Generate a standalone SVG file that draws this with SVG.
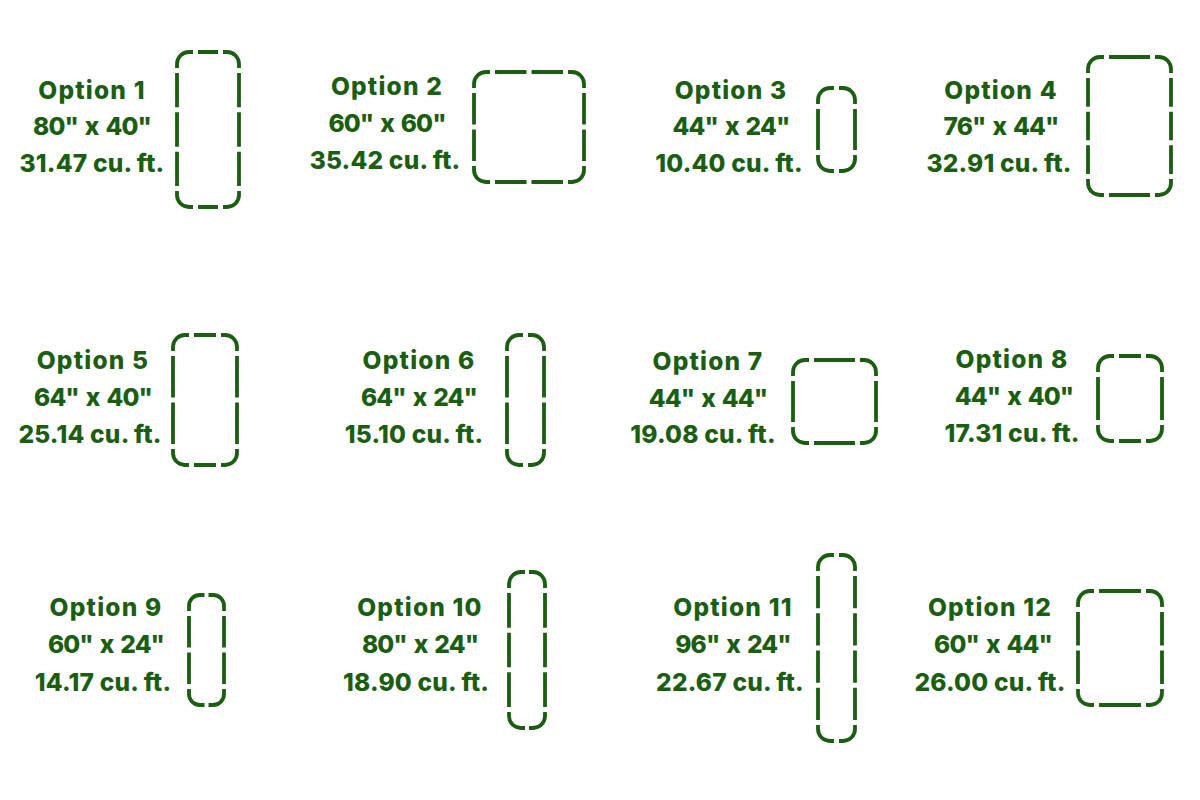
<svg xmlns="http://www.w3.org/2000/svg" width="1200" height="800" viewBox="0 0 1200 800">
<style>
.t{font-family:Inter,"Open Sans","Liberation Sans",sans-serif;font-weight:800;font-size:24.5px;fill:#1b5e12;text-anchor:middle}
.o{letter-spacing:1.2px}
.d{letter-spacing:-0.9px;word-spacing:2.5px}
.v{letter-spacing:0.2px}
.r{fill:none;stroke:#1b5e12;stroke-width:3.8;stroke-linecap:butt}
</style>
<rect width="1200" height="800" fill="#ffffff"/>
<g id="option1">
<text class="t o" x="92" y="98.5">Option 1</text>
<text class="t d" x="92" y="135">80" x 40"</text>
<text class="t v" x="92" y="172">31.47 cu. ft.</text>
<path class="r" d="M177 68V64A12 12 0 0 1 189 52H193M223 52H227A12 12 0 0 1 239 64V68M239 191V195A12 12 0 0 1 227 207H223M193 207H189A12 12 0 0 1 177 195V191M198 52H218M198 207H218M177 73V107.3M177 112.3V146.7M177 151.7V186M239 73V107.3M239 112.3V146.7M239 151.7V186"/>
</g>
<g id="option2">
<text class="t o" x="387" y="95">Option 2</text>
<text class="t d" x="387" y="132">60" x 60"</text>
<text class="t v" x="385" y="169">35.42 cu. ft.</text>
<path class="r" d="M474 88V84A12 12 0 0 1 486 72H490M568 72H572A12 12 0 0 1 584 84V88M584 166V170A12 12 0 0 1 572 182H568M490 182H486A12 12 0 0 1 474 170V166M495 72H526.5M531.5 72H563M495 182H526.5M531.5 182H563M474 93V124.5M474 129.5V161M584 93V124.5M584 129.5V161"/>
</g>
<g id="option3">
<text class="t o" x="731" y="98.5">Option 3</text>
<text class="t d" x="731" y="135">44" x 24"</text>
<text class="t v" x="729" y="172">10.40 cu. ft.</text>
<path class="r" d="M818 104V100A12 12 0 0 1 830 88H834M839 88H843A12 12 0 0 1 855 100V104M855 155V159A12 12 0 0 1 843 171H839M834 171H830A12 12 0 0 1 818 159V155M818 109V150M855 109V150"/>
</g>
<g id="option4">
<text class="t o" x="1001" y="98.5">Option 4</text>
<text class="t d" x="1001" y="135">76" x 44"</text>
<text class="t v" x="999" y="172">32.91 cu. ft.</text>
<path class="r" d="M1088 73V69A12 12 0 0 1 1100 57H1104M1155 57H1159A12 12 0 0 1 1171 69V73M1171 179V183A12 12 0 0 1 1159 195H1155M1104 195H1100A12 12 0 0 1 1088 183V179M1109 57H1150M1109 195H1150M1088 78V106.7M1088 111.7V140.3M1088 145.3V174M1171 78V106.7M1171 111.7V140.3M1171 145.3V174"/>
</g>
<g id="option5">
<text class="t o" x="93" y="368.5">Option 5</text>
<text class="t d" x="93" y="405.5">64" x 40"</text>
<text class="t v" x="90" y="443">25.14 cu. ft.</text>
<path class="r" d="M173 351V347A12 12 0 0 1 185 335H189M221 335H225A12 12 0 0 1 237 347V351M237 449V453A12 12 0 0 1 225 465H221M189 465H185A12 12 0 0 1 173 453V449M194 335H216M194 465H216M173 356V397.5M173 402.5V444M237 356V397.5M237 402.5V444"/>
</g>
<g id="option6">
<text class="t o" x="419" y="368.5">Option 6</text>
<text class="t d" x="419" y="405.5">64" x 24"</text>
<text class="t v" x="414" y="443">15.10 cu. ft.</text>
<path class="r" d="M507 351V347A12 12 0 0 1 519 335H523M528 335H532A12 12 0 0 1 544 347V351M544 449V453A12 12 0 0 1 532 465H528M523 465H519A12 12 0 0 1 507 453V449M507 356V397.5M507 402.5V444M544 356V397.5M544 402.5V444"/>
</g>
<g id="option7">
<text class="t o" x="708" y="370">Option 7</text>
<text class="t d" x="708" y="406.5">44" x 44"</text>
<text class="t v" x="703" y="443">19.08 cu. ft.</text>
<path class="r" d="M793 376V372A12 12 0 0 1 805 360H809M860 360H864A12 12 0 0 1 876 372V376M876 427V431A12 12 0 0 1 864 443H860M809 443H805A12 12 0 0 1 793 431V427M814 360H855M814 443H855M793 381V422M876 381V422"/>
</g>
<g id="option8">
<text class="t o" x="1012" y="368">Option 8</text>
<text class="t d" x="1014" y="405">44" x 40"</text>
<text class="t v" x="1012" y="442">17.31 cu. ft.</text>
<path class="r" d="M1098 372V368A12 12 0 0 1 1110 356H1114M1146 356H1150A12 12 0 0 1 1162 368V372M1162 425V429A12 12 0 0 1 1150 441H1146M1114 441H1110A12 12 0 0 1 1098 429V425M1119 356H1141M1119 441H1141M1098 377V420M1162 377V420"/>
</g>
<g id="option9">
<text class="t o" x="106" y="616">Option 9</text>
<text class="t d" x="106" y="653">60" x 24"</text>
<text class="t v" x="103" y="690.5">14.17 cu. ft.</text>
<path class="r" d="M189 611V607A11 11 0 0 1 200 595H204.5M208.5 595H213A11 11 0 0 1 224 607V611M224 689V693A11 11 0 0 1 213 705H208.5M204.5 705H200A11 11 0 0 1 189 693V689M189 616V647.5M189 652.5V684M224 616V647.5M224 652.5V684"/>
</g>
<g id="option10">
<text class="t o" x="420" y="616">Option 10</text>
<text class="t d" x="420" y="653">80" x 24"</text>
<text class="t v" x="416" y="690.5">18.90 cu. ft.</text>
<path class="r" d="M509 588V584A12 12 0 0 1 521 572H525M529 572H533A12 12 0 0 1 545 584V588M545 712V716A12 12 0 0 1 533 728H529M525 728H521A12 12 0 0 1 509 716V712M509 593V627.7M509 632.7V667.3M509 672.3V707M545 593V627.7M545 632.7V667.3M545 672.3V707"/>
</g>
<g id="option11">
<text class="t o" x="733" y="616">Option 11</text>
<text class="t d" x="733" y="653">96" x 24"</text>
<text class="t v" x="730" y="690.5">22.67 cu. ft.</text>
<path class="r" d="M818 571V567A12 12 0 0 1 830 555H834M839 555H843A12 12 0 0 1 855 567V571M855 725V729A12 12 0 0 1 843 741H839M834 741H830A12 12 0 0 1 818 729V725M818 576V608.3M818 613.3V645.5M818 650.5V682.8M818 687.8V720M855 576V608.3M855 613.3V645.5M855 650.5V682.8M855 687.8V720"/>
</g>
<g id="option12">
<text class="t o" x="990" y="616">Option 12</text>
<text class="t d" x="993" y="653">60" x 44"</text>
<text class="t v" x="990" y="690.5">26.00 cu. ft.</text>
<path class="r" d="M1078 607V603A12 12 0 0 1 1090 591H1094M1146 591H1150A12 12 0 0 1 1162 603V607M1162 689V693A12 12 0 0 1 1150 705H1146M1094 705H1090A12 12 0 0 1 1078 693V689M1099 591H1141M1099 705H1141M1078 612V645.5M1078 650.5V684M1162 612V645.5M1162 650.5V684"/>
</g>
<g id="connectors"/>
</svg>
